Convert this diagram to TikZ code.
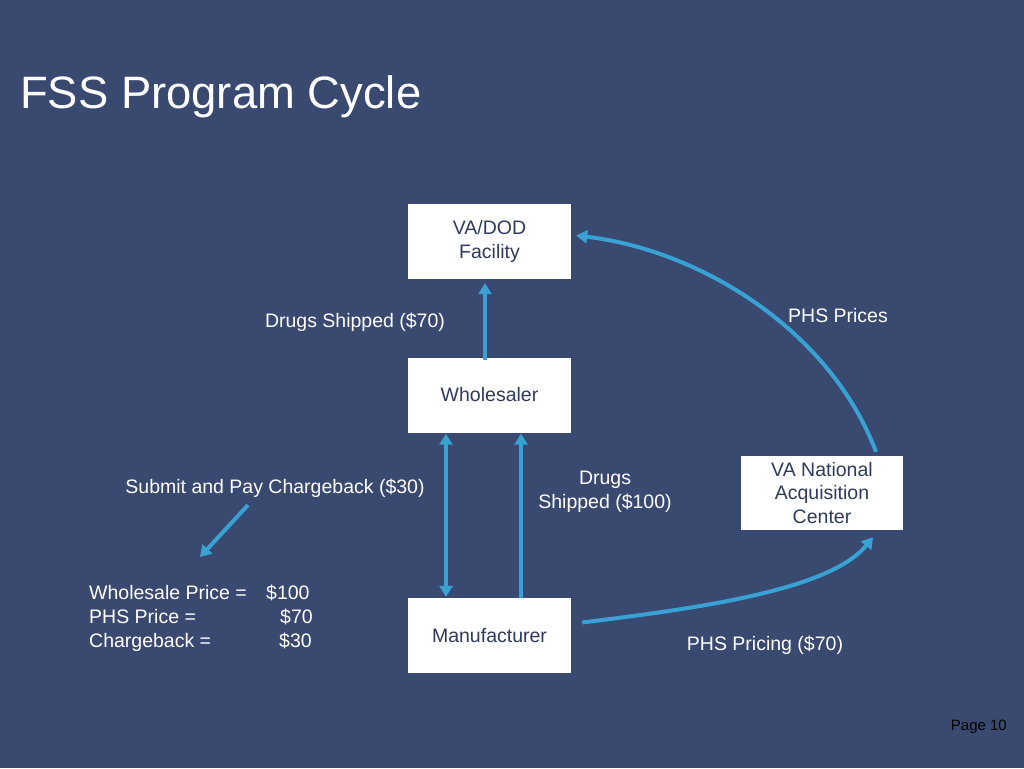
\documentclass[tikz,border=0pt]{standalone}
\usepackage{fontspec}
\setmainfont{Liberation Sans}
\usetikzlibrary{arrows.meta,calc}
\definecolor{bg}{RGB}{58,73,112}
\definecolor{boxtext}{RGB}{47,58,92}
\definecolor{arr}{RGB}{56,162,213}
\tikzset{
  box/.style={fill=white, draw=none, minimum width=163pt, minimum height=75pt, inner sep=0pt, text=boxtext, font=\fontsize{19.5}{23.5}\selectfont, align=center},
  lbl/.style={text=white, font=\fontsize{19.5}{23.5}\selectfont, align=center, inner sep=0pt},
  flow/.style={draw=arr, line width=4pt, -{Triangle[length=11pt,width=13pt]}},
  bflow/.style={draw=arr, line width=4pt, {Triangle[length=11pt,width=13pt]}-{Triangle[length=11pt,width=13pt]}}
}
\begin{document}
\begin{tikzpicture}[x=1pt,y=-1pt]
\fill[bg] (0,0) rectangle (1024,768);
\useasboundingbox (0,0) rectangle (1024,768);
\node[anchor=base west, text=white, font=\fontsize{45.4}{50}\selectfont, inner sep=0pt] (title) at (20,108) {FSS Program Cycle};
\node[box] (vadod) at (489.5,241.5) {VA/DOD\\Facility};
\node[box] (whole) at (489.5,395) {Wholesaler};
\node[box] (manu) at (489.5,635.5) {Manufacturer};
\node[box, minimum width=162pt, minimum height=74pt] (vanac) at (822,493) {VA National\\Acquisition\\Center};
% labels
\node[lbl] (l1) at (355,322) {Drugs Shipped (\$70)};
\node[lbl] (l2) at (838,316) {PHS Prices};
\node[lbl] (l3) at (275,488) {Submit and Pay Chargeback (\$30)};
\node[lbl] (l4) at (605,492) {Drugs\\Shipped (\$100)};
\node[lbl] (l5) at (765,645) {PHS Pricing (\$70)};
\node[lbl, anchor=base west] (w1) at (89,599) {Wholesale Price =};
\node[lbl, anchor=base west] (w2) at (89,623) {PHS Price =};
\node[lbl, anchor=base west] (w3) at (89,647) {Chargeback =};
\node[lbl, anchor=base west] (v1) at (266,599) {\$100};
\node[lbl, anchor=base west] (v2) at (280,623) {\$70};
\node[lbl, anchor=base west] (v3) at (279,647) {\$30};
\node[text=black, font=\fontsize{15}{17}\selectfont, anchor=base east, inner sep=0pt] (page) at (1007,730) {Page 10};
% coordinates
\coordinate (c1s) at (248,505);
\coordinate (c1e) at (200,557);
% arrows
\draw[flow] ($(whole.north)+(-4.5,3)$) -- ($(vadod.south)+(-4.5,4)$);
\draw[bflow] ($(whole.south)+(-43.5,1)$) -- ($(manu.north)+(-43.5,-1)$);
\draw[flow] ($(manu.north)+(31.5,0)$) -- ($(whole.south)+(31.5,1)$);
\draw[flow] (c1s) -- (c1e);
\draw[flow] ($(manu.east)+(11,-13)$) .. controls (700,608) and (830,590) .. ($(vanac.south)+(51,7)$);
\draw[flow] ($(vanac.north)+(54,-4)$) .. controls (830,330) and (700,250) .. ($(vadod.east)+(5,-6)$);
\end{tikzpicture}
\end{document}
